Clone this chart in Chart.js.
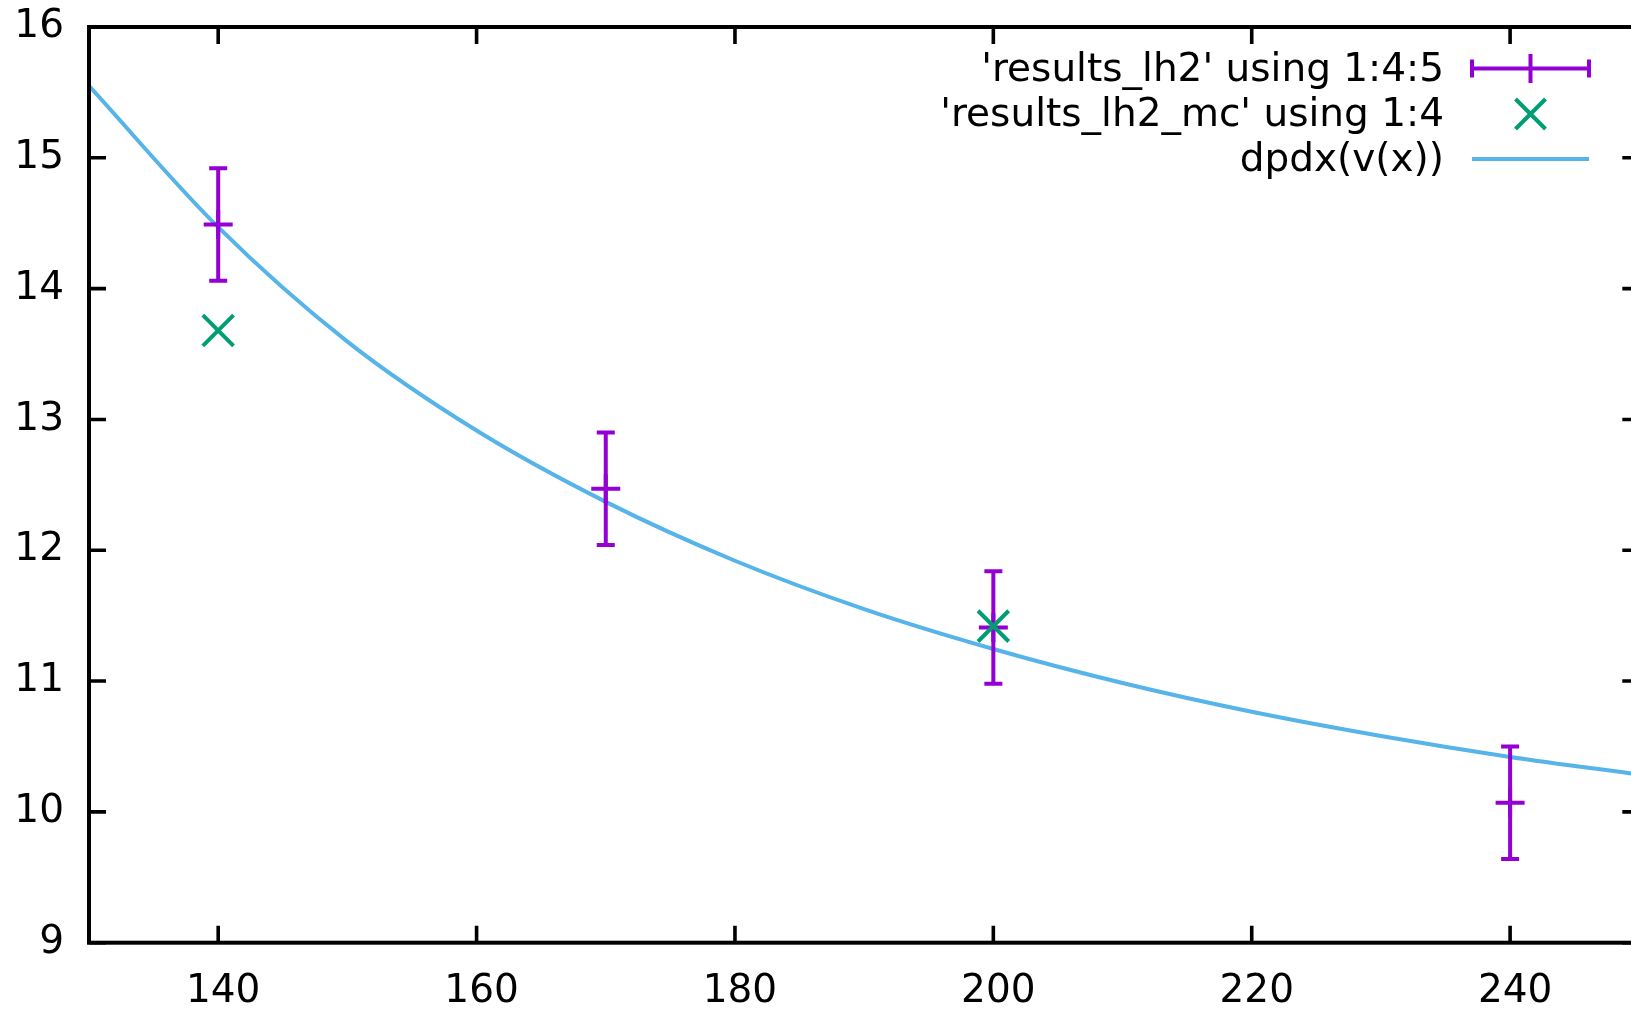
<!DOCTYPE html>
<html>
<head>
<meta charset="utf-8">
<script src="https://cdn.jsdelivr.net/npm/chart.js@4"></script>
<style>
  html, body { margin: 0; padding: 0; background: #fff; overflow: hidden; }
  #wrap { width: 1665px; height: 1010px; }
</style>
</head>
<body>
<div id="wrap"><canvas id="plot" width="1665" height="1010"></canvas></div>
<script>
// data
const lh2X = [140, 170, 200, 240];
const lh2Y = [14.49, 12.47, 11.41, 10.07];
const lh2Err = [0.43, 0.43, 0.43, 0.43];

const mcX = [140, 200];
const mcY = [13.68, 11.42];

const fitX = [130, 140, 150, 160, 170, 180, 190, 200, 210, 220, 230, 240, 250];
const fitY = [15.55, 14.47, 13.595, 12.915, 12.37, 11.92, 11.55, 11.245, 10.985, 10.765, 10.58, 10.42, 10.285];

const xTicks = [140, 160, 180, 200, 220, 240];
const yTicks = [9, 10, 11, 12, 13, 14, 15, 16];

const legendNames = ["'results_lh2' using 1:4:5", "'results_lh2_mc' using 1:4", "dpdx(v(x))"];

const purple = "#9400D3";
const green = "#009E73";
const blue = "#56B4E9";
const font = "DejaVu Sans";

const pairs = (xs, ys) => xs.map((x, i) => ({ x: x, y: ys[i] }));

// error bars for the first dataset
const errorBars = {
  id: "errorBars",
  afterDatasetDraw(chart, args) {
    if (args.index !== 0) return;
    const ctx = chart.ctx;
    const ys = chart.scales.y;
    ctx.save();
    ctx.strokeStyle = purple;
    ctx.lineWidth = 4;
    args.meta.data.forEach((pt, i) => {
      const top = ys.getPixelForValue(lh2Y[i] + lh2Err[i]);
      const bot = ys.getPixelForValue(lh2Y[i] - lh2Err[i]);
      ctx.beginPath();
      ctx.moveTo(pt.x, top); ctx.lineTo(pt.x, bot);
      ctx.moveTo(pt.x - 9, top); ctx.lineTo(pt.x + 9, top);
      ctx.moveTo(pt.x - 9, bot); ctx.lineTo(pt.x + 9, bot);
      ctx.stroke();
    });
    ctx.restore();
  }
};

// gnuplot style frame with inward ticks on all sides
const frame = {
  id: "frame",
  afterDraw(chart) {
    const ctx = chart.ctx;
    const a = chart.chartArea;
    const xs = chart.scales.x, ys = chart.scales.y;
    const t = 17;
    ctx.save();
    ctx.strokeStyle = "#000";
    ctx.lineWidth = 3.6;
    ctx.beginPath();
    xTicks.forEach(v => {
      const px = xs.getPixelForValue(v);
      ctx.moveTo(px, a.bottom); ctx.lineTo(px, a.bottom - t);
      ctx.moveTo(px, a.top); ctx.lineTo(px, a.top + t);
    });
    yTicks.forEach(v => {
      const py = ys.getPixelForValue(v);
      ctx.moveTo(a.left, py); ctx.lineTo(a.left + t, py);
      ctx.moveTo(a.right, py); ctx.lineTo(a.right - t, py);
    });
    ctx.stroke();
    ctx.lineWidth = 4;
    ctx.strokeRect(a.left, a.top, a.right - a.left, a.bottom - a.top);
    ctx.restore();
  }
};

// legend, top right, text right aligned with the sample to its right
const keyBox = {
  id: "keyBox",
  afterDraw(chart) {
    const ctx = chart.ctx;
    const textRight = 1444;
    const s0 = 1472, s1 = 1589, sc = (s0 + s1) / 2;
    const rows = [68.5, 114, 159];
    ctx.save();
    ctx.font = "39px '" + font + "'";
    ctx.fillStyle = "#000";
    ctx.textAlign = "right";
    ctx.textBaseline = "middle";
    legendNames.forEach((name, i) => ctx.fillText(name, textRight, rows[i] + 2));

    ctx.lineWidth = 4;
    ctx.strokeStyle = purple;
    ctx.beginPath();
    ctx.moveTo(s0, rows[0]); ctx.lineTo(s1, rows[0]);
    ctx.moveTo(s0, rows[0] - 9); ctx.lineTo(s0, rows[0] + 9);
    ctx.moveTo(s1, rows[0] - 9); ctx.lineTo(s1, rows[0] + 9);
    ctx.moveTo(sc, rows[0] - 14.5); ctx.lineTo(sc, rows[0] + 14.5);
    ctx.stroke();

    ctx.strokeStyle = green;
    ctx.beginPath();
    ctx.moveTo(sc - 15, rows[1] - 15); ctx.lineTo(sc + 15, rows[1] + 15);
    ctx.moveTo(sc - 15, rows[1] + 15); ctx.lineTo(sc + 15, rows[1] - 15);
    ctx.stroke();

    ctx.strokeStyle = blue;
    ctx.beginPath();
    ctx.moveTo(s0, rows[2]); ctx.lineTo(s1, rows[2]);
    ctx.stroke();
    ctx.restore();
  }
};

new Chart(document.getElementById("plot"), {
  type: "scatter",
  data: {
    datasets: [
      {
        label: legendNames[0],
        data: pairs(lh2X, lh2Y),
        pointStyle: "cross",
        pointRadius: 14.5,
        borderWidth: 4,
        borderColor: purple,
        backgroundColor: purple,
        order: 2,
      },
      {
        label: legendNames[1],
        data: pairs(mcX, mcY),
        pointStyle: "crossRot",
        pointRadius: 21.7,
        borderWidth: 4,
        borderColor: green,
        backgroundColor: green,
        order: 1,
      },
      {
        type: "line",
        label: legendNames[2],
        data: pairs(fitX, fitY),
        borderColor: blue,
        borderWidth: 4,
        pointRadius: 0,
        fill: false,
        cubicInterpolationMode: "monotone",
        order: 3,
      },
    ],
  },
  options: {
    responsive: false,
    animation: false,
    devicePixelRatio: 1,
    layout: { padding: { top: 27, right: 12, left: 0, bottom: 0 } },
    plugins: {
      legend: { display: false },
      tooltip: { enabled: false },
    },
    scales: {
      x: {
        type: "linear",
        min: 130,
        max: 250,
        afterBuildTicks: (s) => { s.ticks = xTicks.map(v => ({ value: v })); },
        afterFit: (s) => { s.height = 67.3; s.paddingLeft = 0; s.paddingRight = 0; },
        grid: { display: false, drawTicks: false },
        border: { display: false },
        ticks: {
          color: "#000",
          padding: 26,
          labelOffset: 5,
          maxRotation: 0,
          font: { family: font, size: 39 },
        },
      },
      y: {
        type: "linear",
        min: 9,
        max: 16,
        afterBuildTicks: (s) => { s.ticks = yTicks.map(v => ({ value: v })); },
        afterFit: (s) => { s.width = 89; s.paddingTop = 0; s.paddingBottom = 0; },
        grid: { display: false, drawTicks: false },
        border: { display: false },
        ticks: {
          color: "#000",
          padding: 25,
          font: { family: font, size: 39 },
        },
      },
    },
  },
  plugins: [errorBars, frame, keyBox],
});
</script>
</body>
</html>
